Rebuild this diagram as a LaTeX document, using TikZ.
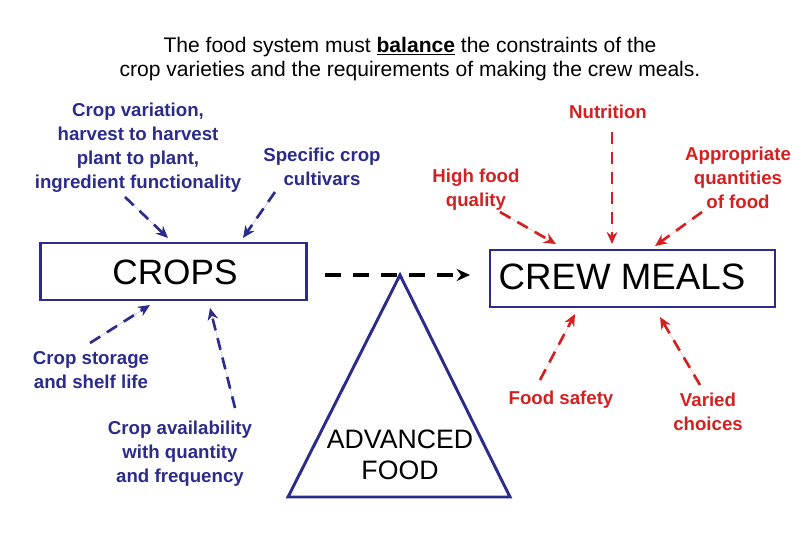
\documentclass[tikz,border=0pt]{standalone}
\usepackage{fontspec}
\setmainfont{Liberation Sans}
\usetikzlibrary{arrows.meta}
\definecolor{bl}{HTML}{2B2B8C}
\definecolor{rd}{HTML}{D42020}
\begin{document}
\begin{tikzpicture}[x=0.75pt,y=-0.75pt,
 lbl/.style={font=\fontsize{14}{18}\selectfont\bfseries,align=center,inner sep=0},
 bt/.style={lbl,text=bl}, rt/.style={lbl,text=rd},
 bx/.style={draw=bl,line width=2.2pt,inner sep=0},
 da/.style={line width=2pt,dash pattern=on 9pt off 6pt,-{Stealth[length=9pt,width=8pt]}},
 ba/.style={da,draw=bl,fill=bl}, ra/.style={da,draw=rd,fill=rd}]
\useasboundingbox (0,0) rectangle (810,540);
\node[align=center,font=\fontsize{15.8}{18}\selectfont] (t) at (410,59) {The food system must \underline{\textbf{balance}} the constraints of the\\crop varieties and the requirements of making the crew meals.};
\node[bx,minimum width=200pt,minimum height=42.75pt] (crops) at (173.5,271.5) {};
\node[font=\fontsize{26.4}{28}\selectfont] (ct) at (175,272) {CROPS};
\node[bx,minimum width=213.75pt,minimum height=42.75pt] (meals) at (632.5,278.5) {};
\node[font=\fontsize{27.5}{28}\selectfont] (mt) at (622,277) {CREW MEALS};
\coordinate (apex) at (400,275);
\coordinate (bl1) at (288,497);
\coordinate (br1) at (510,497);
\draw[draw=bl,line width=2.2pt,line join=miter] (apex) -- (bl1) -- (br1) -- cycle;
\node[align=center,font=\fontsize{20}{23}\selectfont] (adv) at (400,455) {ADVANCED\\FOOD};
\coordinate (d1) at (325,275); \coordinate (d2) at (470,275);
\draw[line width=2.5pt,dash pattern=on 12pt off 9pt,-{Stealth[length=10pt,width=9pt]}] (d1) -- (d2);
\node[bt] (cv) at (138,148) {Crop variation,\\harvest to harvest\\plant to plant,\\ingredient functionality};
\node[bt] (sc) at (322,167) {Specific crop\\cultivars};
\node[bt] (cs) at (91,370) {Crop storage\\and shelf life};
\node[bt] (ca) at (180,454) {Crop availability\\with quantity\\and frequency};
\node[rt] (nu) at (608,112) {Nutrition};
\node[rt] (hq) at (476,190) {High food\\quality};
\node[rt] (aq) at (738,178) {Appropriate\\quantities\\of food};
\node[rt] (fs) at (561,400) {Food safety};
\node[rt] (vc) at (708,412) {Varied\\choices};
\coordinate (a1s) at (125,197); \coordinate (a1e) at (168,238);
\coordinate (a2s) at (275,192); \coordinate (a2e) at (243,238);
\coordinate (a3s) at (235,408); \coordinate (a3e) at (210,308);
\coordinate (a4s) at (90,343); \coordinate (a4e) at (150,305);
\draw[ba] (a1s) -- (a1e); \draw[ba] (a2s) -- (a2e);
\draw[ba] (a3s) -- (a3e); \draw[ba] (a4s) -- (a4e);
\coordinate (r1s) at (500,212); \coordinate (r1e) at (556,244);
\coordinate (r2s) at (612,132); \coordinate (r2e) at (612,244);
\coordinate (r3s) at (702,212); \coordinate (r3e) at (655,246);
\coordinate (r4s) at (540,380); \coordinate (r4e) at (575,314);
\coordinate (r5s) at (700,385); \coordinate (r5e) at (660,317);
\draw[ra] (r1s) -- (r1e); \draw[ra] (r2s) -- (r2e); \draw[ra] (r3s) -- (r3e);
\draw[ra] (r4s) -- (r4e); \draw[ra] (r5s) -- (r5e);
\end{tikzpicture}
\end{document}
